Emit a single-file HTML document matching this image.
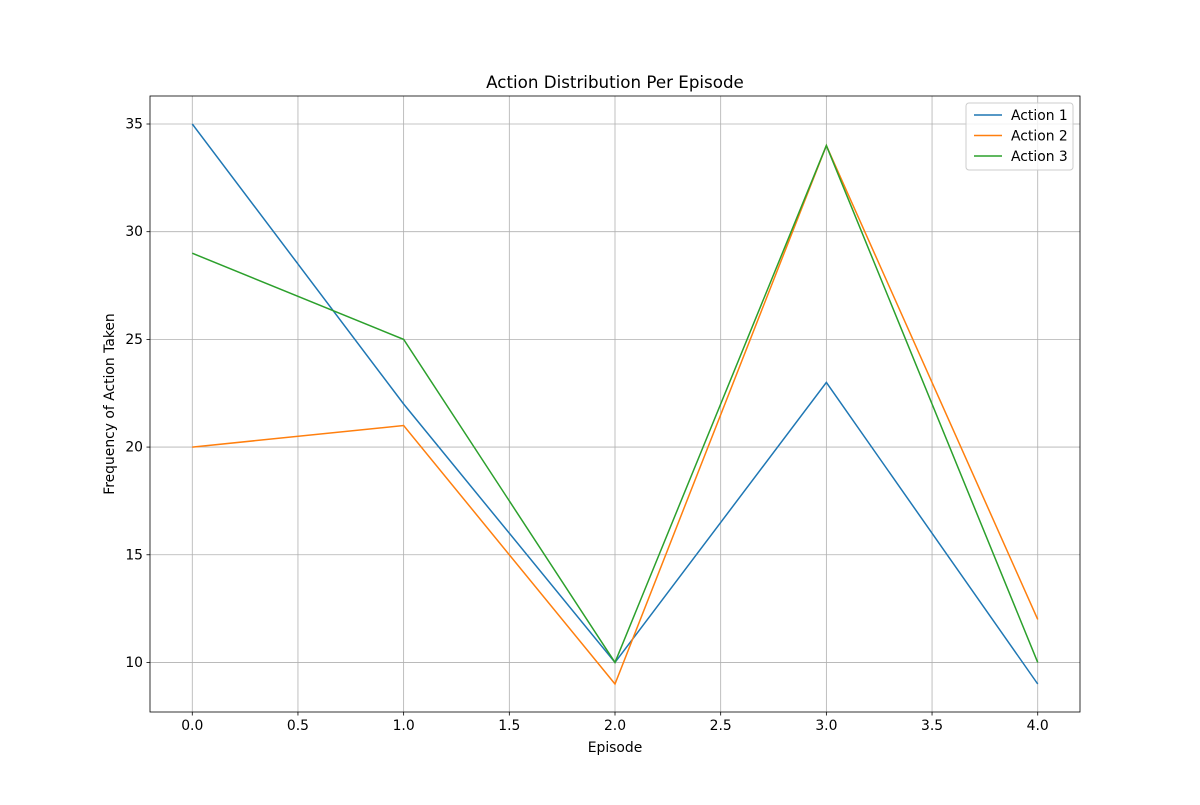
<!DOCTYPE html>
<html><head><meta charset="utf-8"><style>
body{margin:0;background:#fff;font-family:"Liberation Sans","DejaVu Sans",sans-serif}
svg text{font-family:"DejaVu Sans","Liberation Sans",sans-serif}
</style></head><body>
<svg id="chart" width="1200" height="800" xmlns="http://www.w3.org/2000/svg"></svg>
<script>
const episodes=[0,1,2,3,4];
const action1=[35,22,10,23,9];
const action2=[20,21,9,34,12];
const action3=[29,25,10,34,10];
const seriesNames=["Action 1","Action 2","Action 3"];
const xTicks=[0,0.5,1,1.5,2,2.5,3,3.5,4];
const yTicks=[10,15,20,25,30,35];
const colors=["#1f77b4","#ff7f0e","#2ca02c"];
const L=150,R=1080,T=96,B=712;
const allY=action1.concat(action2,action3);
const ymn=Math.min(...allY),ymx=Math.max(...allY),ypad=(ymx-ymn)*0.05;
const y0=ymn-ypad,y1=ymx+ypad;
const xmn=Math.min(...episodes),xmx=Math.max(...episodes),xpad=(xmx-xmn)*0.05;
const x0=xmn-xpad,x1=xmx+xpad;
const sx=v=>L+(v-x0)/(x1-x0)*(R-L);
const sy=v=>B-(v-y0)/(y1-y0)*(B-T);
const svg=document.getElementById('chart');
const NS='http://www.w3.org/2000/svg';
function mk(tag,attrs,parent){const e=document.createElementNS(NS,tag);for(const k in attrs)e.setAttribute(k,attrs[k]);(parent||svg).appendChild(e);return e;}
xTicks.forEach(t=>{const x=sx(t);
const g=mk('line',{x1:x,x2:x,y1:T,y2:B,stroke:'#b0b0b0','stroke-width':0.8});


mk('line',{x1:x,x2:x,y1:B,y2:B+3.5,stroke:'#000','stroke-width':0.8});
const tx=mk('text',{x:x,y:B+18,'text-anchor':'middle','font-size':13.9});tx.textContent=t.toFixed(1);


});
yTicks.forEach(t=>{const y=sy(t);
const g=mk('line',{x1:L,x2:R,y1:y,y2:y,stroke:'#b0b0b0','stroke-width':0.8});


mk('line',{x1:L-3.5,x2:L,y1:y,y2:y,stroke:'#000','stroke-width':0.8});
const tx=mk('text',{x:L-7,y:y+4.5,'text-anchor':'end','font-size':13.9});tx.textContent=t;


});
[action1,action2,action3].forEach((s,i)=>{
const p=mk('polyline',{points:s.map((v,j)=>sx(episodes[j])+','+sy(v)).join(' '),fill:'none',stroke:colors[i],'stroke-width':1.5});


});
const fr=mk('rect',{x:L,y:T,width:R-L,height:B-T,fill:'none',stroke:'#000','stroke-width':0.8});


const title=mk('text',{x:(L+R)/2,y:88,'text-anchor':'middle','font-size':16.7});title.textContent='Action Distribution Per Episode';


const xl=mk('text',{x:(L+R)/2,y:752,'text-anchor':'middle','font-size':13.9});xl.textContent='Episode';


const yl=mk('text',{x:114,y:(T+B)/2,'text-anchor':'middle','font-size':13.9,transform:'rotate(-90 114 '+((T+B)/2)+')'});yl.textContent='Frequency of Action Taken';


const lg=mk('g',{});


mk('rect',{x:966,y:103,width:107,height:67,rx:3,fill:'#fff','fill-opacity':0.8,stroke:'#ccc'},lg);
seriesNames.forEach((n,i)=>{const y=115+i*20.5;
mk('line',{x1:974,x2:1002,y1:y,y2:y,stroke:colors[i],'stroke-width':1.5},lg);
const t=mk('text',{x:1011,y:y+5,'font-size':13.9},lg);t.textContent=n;


});
</script>
</body></html>
